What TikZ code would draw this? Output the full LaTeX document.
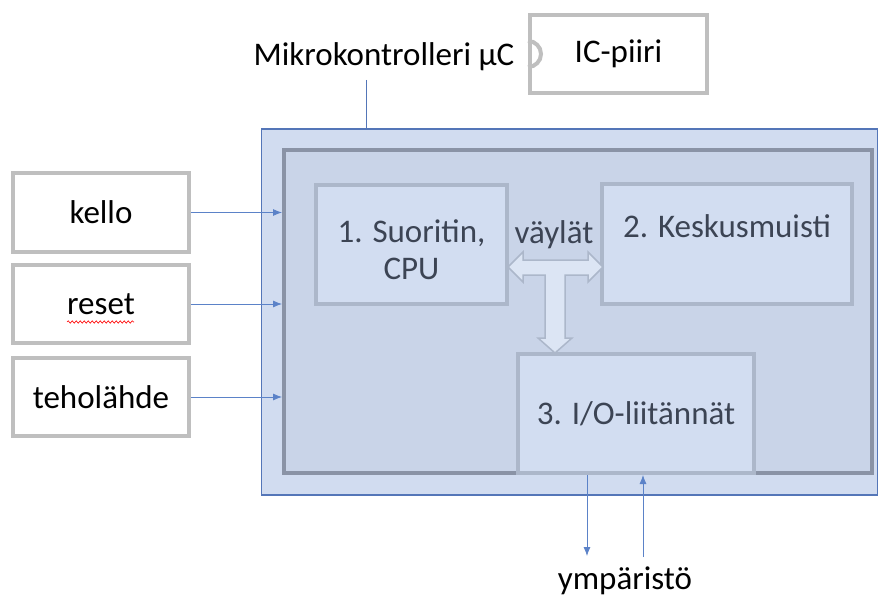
\documentclass[tikz,border=0pt]{standalone}
\usepackage{fontspec}
\setmainfont{Carlito}
\usetikzlibrary{arrows.meta,decorations.pathmorphing}

\definecolor{outerfill}{RGB}{209,220,240}
\definecolor{outerline}{RGB}{84,118,184}
\definecolor{innerfill}{RGB}{201,212,232}
\definecolor{innerline}{RGB}{138,147,166}
\definecolor{partfill}{RGB}{210,221,241}
\definecolor{partline}{RGB}{172,183,202}
\definecolor{busfill}{RGB}{220,229,244}
\definecolor{extline}{RGB}{191,191,191}
\definecolor{sigline}{RGB}{91,130,200}
\definecolor{innertext}{RGB}{60,68,84}

\tikzset{
  lbl/.style={font=\fontsize{33}{38}\selectfont},
  base/.style={rectangle, inner sep=0pt, lbl},
  extbox/.style={base, draw=extline, line width=4pt, fill=white},
  partbox/.style={base, draw=partline, line width=4pt, fill=partfill, text=innertext},
  sig/.style={draw=sigline, line width=0.8pt, -{Latex[length=9pt,width=7pt]}},
  plain/.style={base, text=black},
}

\begin{document}
\begin{tikzpicture}[x=1pt,y=-1pt]
\useasboundingbox (0,0) rectangle (879,599);

% microcontroller package and its core area
\node[base, draw=outerline, line width=1.2pt, fill=outerfill,
      minimum width=616pt, minimum height=366pt] (mcu) at (569.75,312) {};
\node[base, draw=innerline, line width=4pt, fill=innerfill,
      minimum width=588pt, minimum height=323pt] (core) at (578,311.5) {};

% functional blocks
\node[partbox, minimum width=191pt, minimum height=119pt] (cpu) at (411.5,244.5) {};
\node[text=innertext, font=\fontsize{33}{37}\selectfont, align=center] (cputxt) at (411.5,250) {1. Suoritin,\\CPU};
\node[partbox, minimum width=250pt, minimum height=120pt] (mem) at (727,244) {};
\node[text=innertext, lbl] (memtxt) at (727,226) {2. Keskusmuisti};
\node[partbox, minimum width=236pt, minimum height=119pt] (io) at (636,413.5) {3. I/O-liitännät};

% T-shaped bus arrow
\draw[draw=partline, line width=1.5pt, fill=busfill, line join=miter]
  (508,267) -- (523,252) -- (523,260) -- (588,260) -- (588,252) -- (603,267)
  -- (588,282) -- (588,275) -- (565,275) -- (565,338) -- (572,338) -- (555,353)
  -- (538,338) -- (545,338) -- (545,275) -- (523,275) -- (523,282) -- cycle;
\node[text=innertext, lbl] (bus) at (554,235) {väylät};

% external inputs
\node[extbox, minimum width=176pt, minimum height=78pt] (kello) at (101,212.5) {kello};
\node[extbox, minimum width=176pt, minimum height=78pt] (reset) at (101,304) {reset};
\node[extbox, minimum width=176pt, minimum height=78pt] (teho) at (101,397) {teholähde};
\draw[red, line width=0.6pt, decorate, decoration={snake, amplitude=1.2pt, segment length=4pt}]
  (67,322) -- (134,322);

\draw[sig] (kello.east) -- (kello.east -| core.west);
\draw[sig] (reset.east) -- (reset.east -| core.west);
\draw[sig] (teho.east) -- (teho.east -| core.west);

% title and IC symbol
\node[plain] (title) at (384,57) {Mikrokontrolleri µC};
\coordinate (titlefoot) at (366,80);
\draw[draw=outerline, line width=0.8pt] (titlefoot) -- (titlefoot |- mcu.north);

\node[extbox, minimum width=177pt, minimum height=78pt] (ic) at (618.5,54) {IC-piiri};
\draw[extline, line width=4pt] ([yshift=-13pt]ic.west) arc[start angle=-90, end angle=90, radius=13pt];

% environment connections
\node[plain] (env) at (625,581) {ympäristö};
\coordinate (envout) at (587,556);
\coordinate (envin) at (643,557);
\draw[sig] (envout |- io.south) -- (envout);
\draw[sig] (envin) -- (envin |- io.south);
\end{tikzpicture}
\end{document}
